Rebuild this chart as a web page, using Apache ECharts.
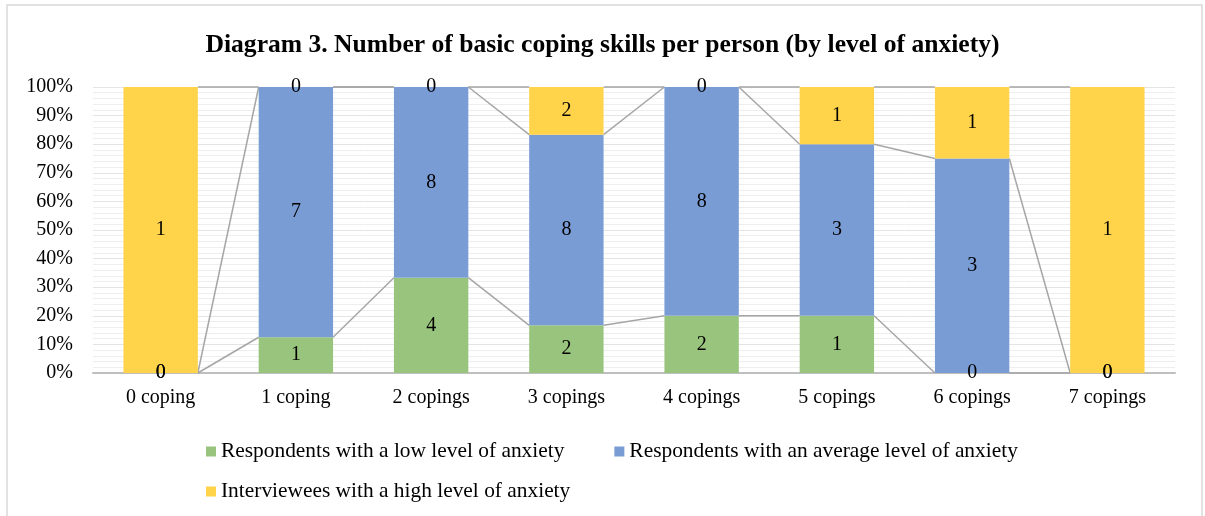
<!DOCTYPE html>
<html>
<head>
<meta charset="utf-8">
<script src="https://cdn.jsdelivr.net/npm/echarts@6/dist/echarts.min.js"></script>
<style>
  html, body { margin: 0; padding: 0; background: #fff; }
  #chart { width: 1205px; height: 516px; }
</style>
</head>
<body>
<div id="chart"></div>
<script>
const categories = ['0 coping', '1 coping', '2 copings', '3 copings', '4 copings', '5 copings', '6 copings', '7 copings']
const lowCounts = [0, 1, 4, 2, 2, 1, 0, 0]
const avgCounts = [0, 7, 8, 8, 8, 3, 3, 0]
const highCounts = [1, 0, 0, 2, 0, 1, 1, 1]
const seriesNames = [
  'Respondents with a low level of anxiety',
  'Respondents with an average level of anxiety',
  'Interviewees with a high level of anxiety'
]
const colors = ['#98c47d', '#7a9cd5', '#ffd34a']

const counts = [lowCounts, avgCounts, highCounts]
const totals = categories.map((c, i) => lowCounts[i] + avgCounts[i] + highCounts[i])
const percents = counts.map(arr => arr.map((v, i) => totals[i] ? v / totals[i] * 100 : 0))
// cumulative top of each stacked segment, used for the series lines
const cumulative = categories.map((c, i) => {
  let sum = 0
  return percents.map(p => (sum += p[i]))
})

const font = '"Liberation Serif", "Times New Roman", serif'
const barGap = 0.45

const chart = echarts.init(document.getElementById('chart'))

const barSeries = seriesNames.map((name, k) => ({
  name: name,
  type: 'bar',
  stack: 'total',
  barCategoryGap: barGap * 100 + '%',
  itemStyle: { color: colors[k] },
  label: {
    show: true,
    position: 'inside',
    color: '#000',
    fontFamily: font,
    fontSize: 20,
    formatter: p => counts[k][p.dataIndex]
  },
  data: percents[k]
}))

const seriesLines = {
  type: 'custom',
  silent: true,
  z: 1,
  renderItem(params, api) {
    const i = api.value(0)
    if (i >= categories.length - 1) return null
    const bw = api.size([1, 0])[0] * (1 - barGap)
    const children = cumulative[i].map((v, k) => {
      const p1 = api.coord([i, v])
      const p2 = api.coord([i + 1, cumulative[i + 1][k]])
      return {
        type: 'line',
        shape: { x1: p1[0] + bw / 2, y1: p1[1], x2: p2[0] - bw / 2, y2: p2[1] },
        style: { stroke: '#a6a6a6', lineWidth: 1.5 }
      }
    })
    return { type: 'group', children: children }
  },
  data: categories.map((c, i) => [i])
}

chart.setOption({
  animation: false,
  title: {
    text: 'Diagram 3. Number of basic coping skills per person (by level of anxiety)',
    left: 'center',
    top: 27,
    textStyle: { fontFamily: font, fontSize: 25.6, fontWeight: 'bold', color: '#000' }
  },
  graphic: [{
    type: 'rect',
    shape: { x: 7, y: 5, width: 1195, height: 530 },
    style: { fill: 'none', stroke: '#d9d9d9', lineWidth: 1.5 },
    silent: true
  }],
  legend: [{
    data: seriesNames.slice(0, 2),
    left: 201,
    top: 436,
    icon: 'rect',
    itemWidth: 10,
    itemHeight: 10,
    itemGap: 50,
    textStyle: { fontFamily: font, fontSize: 21.4, color: '#000' }
  }, {
    data: seriesNames.slice(2),
    left: 201,
    top: 476,
    icon: 'rect',
    itemWidth: 10,
    itemHeight: 10,
    textStyle: { fontFamily: font, fontSize: 21.4, color: '#000' }
  }],
  grid: { left: 93, right: 30, top: 87, bottom: 143 },
  xAxis: {
    type: 'category',
    data: categories,
    axisTick: { show: false },
    axisLine: { lineStyle: { color: '#bfbfbf', width: 2 } },
    axisLabel: { color: '#000', fontFamily: font, fontSize: 20, margin: 15 }
  },
  yAxis: {
    type: 'value',
    min: 0,
    max: 100,
    interval: 10,
    axisLine: { show: false },
    axisTick: { show: false },
    axisLabel: { color: '#000', fontFamily: font, fontSize: 20, margin: 20, formatter: '{value}%' },
    splitLine: { lineStyle: { color: '#e4e4e4', width: 1 } },
    minorTick: { show: false, splitNumber: 5 },
    minorSplitLine: { show: true, lineStyle: { color: '#eeeeee', width: 1 } }
  },
  series: barSeries.concat([seriesLines])
})
</script>
</body>
</html>
